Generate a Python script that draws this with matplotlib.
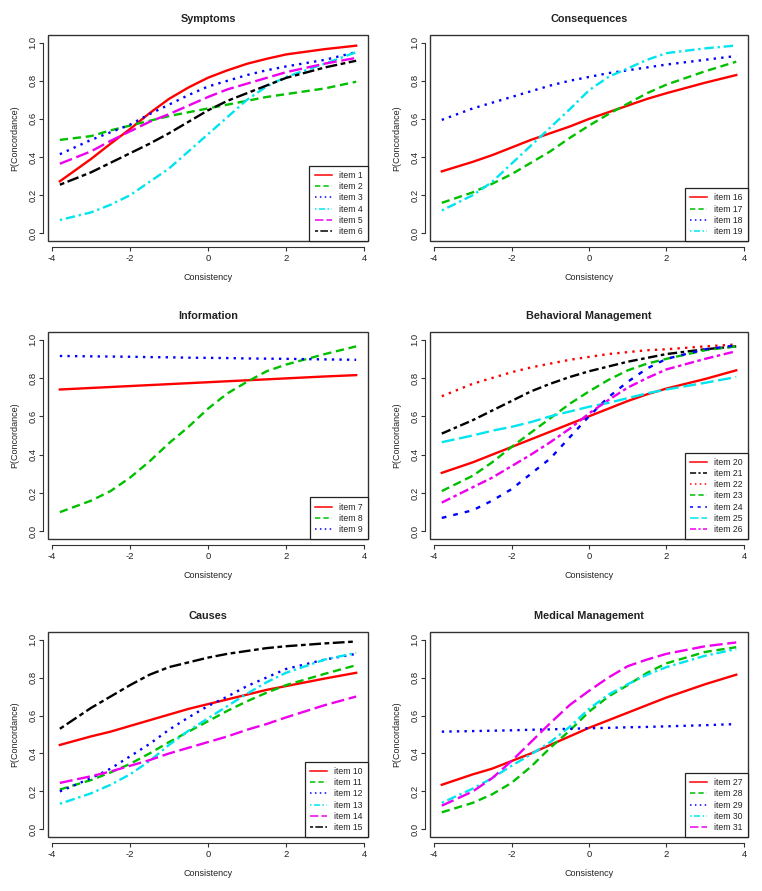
import matplotlib
matplotlib.use('Agg')
import matplotlib.pyplot as plt
from matplotlib.patches import Rectangle

plt.rcParams['font.family'] = ['Liberation Sans', 'DejaVu Sans']
plt.rcParams['axes.unicode_minus'] = False

# ---- data -------------------------------------------------------------
consistency = [-3.8, -3, -2.5, -2, -1.5, -1, -0.5, 0, 0.5, 1, 1.5, 2, 3, 3.8]

x_ticks = [-4, -2, 0, 2, 4]
x_tick_labels = ["-4", "-2", "0", "2", "4"]
y_ticks = [0.0, 0.2, 0.4, 0.6, 0.8, 1.0]
y_tick_labels = ["0.0", "0.2", "0.4", "0.6", "0.8", "1.0"]

panel_titles = ["Symptoms", "Consequences", "Information",
                "Behavioral Management", "Causes", "Medical Management"]

# Symptoms
item1 = [.273, .39, .47, .547, .63, .705, .765, .816, .855, .889, .915, .938, .966, .984]
item2 = [.49, .51, .54, .565, .59, .615, .635, .655, .675, .695, .715, .73, .76, .795]
item3 = [.415, .49, .53, .57, .625, .675, .725, .77, .80, .83, .855, .875, .91, .95]
item4 = [.07, .11, .15, .20, .27, .34, .43, .52, .61, .70, .77, .82, .89, .95]
item5 = [.365, .43, .485, .535, .585, .625, .67, .715, .755, .785, .815, .845, .89, .92]
item6 = [.255, .32, .37, .42, .47, .525, .585, .645, .695, .735, .775, .815, .87, .905]
# Consequences
item16 = [.325, .375, .41, .45, .49, .525, .56, .60, .635, .67, .705, .735, .79, .83]
item17 = [.16, .215, .26, .31, .37, .43, .50, .565, .625, .68, .735, .78, .85, .90]
item18 = [.595, .655, .685, .715, .745, .775, .80, .82, .84, .855, .87, .885, .91, .93]
item19 = [.12, .20, .27, .365, .46, .555, .65, .75, .82, .865, .91, .945, .97, .985]
# Information
item7 = [.74, .748, .753, .758, .763, .768, .773, .778, .783, .788, .793, .798, .808, .815]
item8 = [.10, .16, .21, .28, .365, .46, .545, .64, .72, .78, .835, .87, .925, .965]
item9 = [.915, .913, .912, .911, .909, .908, .906, .905, .904, .902, .901, .90, .897, .895]
# Behavioral Management
item20 = [.305, .36, .40, .44, .48, .52, .56, .60, .64, .68, .715, .745, .795, .84]
item21 = [.51, .58, .63, .68, .73, .77, .805, .835, .86, .885, .905, .925, .95, .965]
item22 = [.705, .77, .80, .83, .855, .875, .895, .91, .925, .935, .945, .95, .965, .975]
item23 = [.21, .29, .36, .44, .515, .59, .665, .73, .79, .84, .875, .90, .945, .965]
item24 = [.07, .11, .16, .22, .30, .38, .49, .60, .70, .78, .85, .90, .95, .97]
item25 = [.465, .50, .525, .545, .57, .60, .625, .65, .67, .695, .72, .74, .775, .805]
item26 = [.15, .23, .28, .34, .40, .465, .535, .615, .685, .75, .80, .845, .90, .94]
# Causes
item10 = [.445, .49, .515, .545, .575, .605, .635, .66, .685, .71, .735, .755, .795, .825]
item11 = [.21, .26, .30, .345, .40, .46, .515, .57, .625, .675, .72, .76, .82, .865]
item12 = [.20, .27, .32, .385, .45, .525, .59, .65, .70, .755, .80, .845, .895, .925]
item13 = [.135, .19, .235, .29, .36, .445, .52, .585, .65, .715, .775, .825, .895, .93]
item14 = [.245, .28, .305, .335, .365, .40, .43, .46, .49, .525, .555, .59, .655, .70]
item15 = [.53, .64, .70, .76, .815, .855, .88, .905, .925, .94, .955, .965, .98, .99]
# Medical Management
item27 = [.235, .29, .32, .36, .40, .445, .49, .535, .575, .615, .655, .695, .765, .815]
item28 = [.09, .14, .185, .245, .33, .43, .52, .62, .70, .76, .825, .875, .935, .96]
item29 = [.515, .518, .520, .522, .525, .527, .530, .533, .535, .538, .540, .543, .549, .555]
item30 = [.14, .215, .27, .335, .395, .46, .54, .635, .71, .765, .815, .855, .915, .95]
item31 = [.125, .20, .27, .36, .46, .56, .655, .73, .80, .86, .895, .925, .965, .985]

panel_items = [
    [("item 1", item1), ("item 2", item2), ("item 3", item3),
     ("item 4", item4), ("item 5", item5), ("item 6", item6)],
    [("item 16", item16), ("item 17", item17), ("item 18", item18), ("item 19", item19)],
    [("item 7", item7), ("item 8", item8), ("item 9", item9)],
    [("item 20", item20), ("item 21", item21), ("item 22", item22), ("item 23", item23),
     ("item 24", item24), ("item 25", item25), ("item 26", item26)],
    [("item 10", item10), ("item 11", item11), ("item 12", item12),
     ("item 13", item13), ("item 14", item14), ("item 15", item15)],
    [("item 27", item27), ("item 28", item28), ("item 29", item29),
     ("item 30", item30), ("item 31", item31)],
]

# ---- styles -----------------------------------------------------------
RED, GREEN, BLUE, CYAN, MAG, BLK = "#FF0000", "#00C000", "#0000FF", "#00E5EE", "#EE00EE", "#000000"
SOLID = "-"
DASH = (0, (3.5, 2))
DOT = (0, (1, 2.2))
DOTDASH = (0, (1, 1.6, 4, 1.6))
LONGDASH = (0, (5.5, 2))
TWODASH = (0, (2, 1.5, 5, 1.5))
SHORTDASH = (0, (2, 3))
DASHDOT = (0, (4, 1.5, 1.5, 1.5))

std_styles = [(RED, SOLID), (GREEN, DASH), (BLUE, DOT), (CYAN, DOTDASH), (MAG, LONGDASH), (BLK, TWODASH)]
panel_styles = [
    std_styles,
    std_styles[:4],
    std_styles[:3],
    [(RED, SOLID), (BLK, DASHDOT), (RED, DOT), (GREEN, DASH), (BLUE, SHORTDASH), (CYAN, LONGDASH), (MAG, DASHDOT)],
    std_styles,
    std_styles[:5],
]

W, H = 762, 891
fig = plt.figure(figsize=(W / 100, H / 100), dpi=100)

col_px = [(48, 368), (430, 748)]
row_px = [(35, 241), (332, 539), (632, 837)]

TXT = "#222222"
for i, title in enumerate(panel_titles):
    r, c = divmod(i, 2)
    x0, x1 = col_px[c]
    y0, y1 = row_px[r]
    ax = fig.add_axes([x0 / W, 1 - y1 / H, (x1 - x0) / W, (y1 - y0) / H])
    for (label, vals), (col, ls) in zip(panel_items[i], panel_styles[i]):
        ax.plot(consistency, vals, color=col, linestyle=ls, lw=1.7, label=label)
    ax.set_xlim(-4.104, 4.104)
    ax.set_ylim(-0.04, 1.04)
    ax.set_xticks(x_ticks)
    ax.set_xticklabels(x_tick_labels)
    ax.set_yticks(y_ticks)
    ax.set_yticklabels(y_tick_labels)
    for s in ("top", "right"):
        ax.spines[s].set_visible(False)
    ax.spines["bottom"].set_position(("outward", 4.5))
    ax.spines["left"].set_position(("outward", 3.5))
    ax.spines["bottom"].set_bounds(-4, 4)
    ax.spines["left"].set_bounds(0, 1)
    for s in ("bottom", "left"):
        ax.spines[s].set_linewidth(0.8)
        ax.spines[s].set_color("#333333")
    ax.add_patch(Rectangle((0, 0), 1, 1, transform=ax.transAxes, fill=False,
                           lw=1.0, edgecolor="#333333", clip_on=False, zorder=5))
    ax.tick_params(axis="both", length=3.2, width=0.8, color="#333333",
                   labelsize=6.8, labelcolor=TXT, pad=2)
    ax.tick_params(axis="y", labelrotation=90, pad=0.8)
    for lab in ax.get_yticklabels():
        lab.set_va("center")
    ax.set_title(title, fontsize=7.8, fontweight="bold", color=TXT, pad=9.5)
    ax.text(0.5, -36 / (y1 - y0), "Consistency", transform=ax.transAxes,
            ha="center", va="center", fontsize=6.5, color=TXT)
    ax.text(-33 / (x1 - x0), 0.5, "P(Concordance)", transform=ax.transAxes,
            ha="center", va="center", rotation=90, fontsize=6.5, color=TXT)
    leg = ax.legend(loc="lower right", borderaxespad=0, fancybox=False,
                    framealpha=1, edgecolor="#222222", fontsize=6.2,
                    handlelength=2.0, handletextpad=0.85, labelspacing=0.25,
                    borderpad=0.6)
    leg.get_frame().set_linewidth(0.9)
    for h in leg.get_lines():
        h.set_linewidth(1.1)
    for t in leg.get_texts():
        t.set_color(TXT)
    leg.set_zorder(6)

fig.savefig("out.png", dpi=100)
